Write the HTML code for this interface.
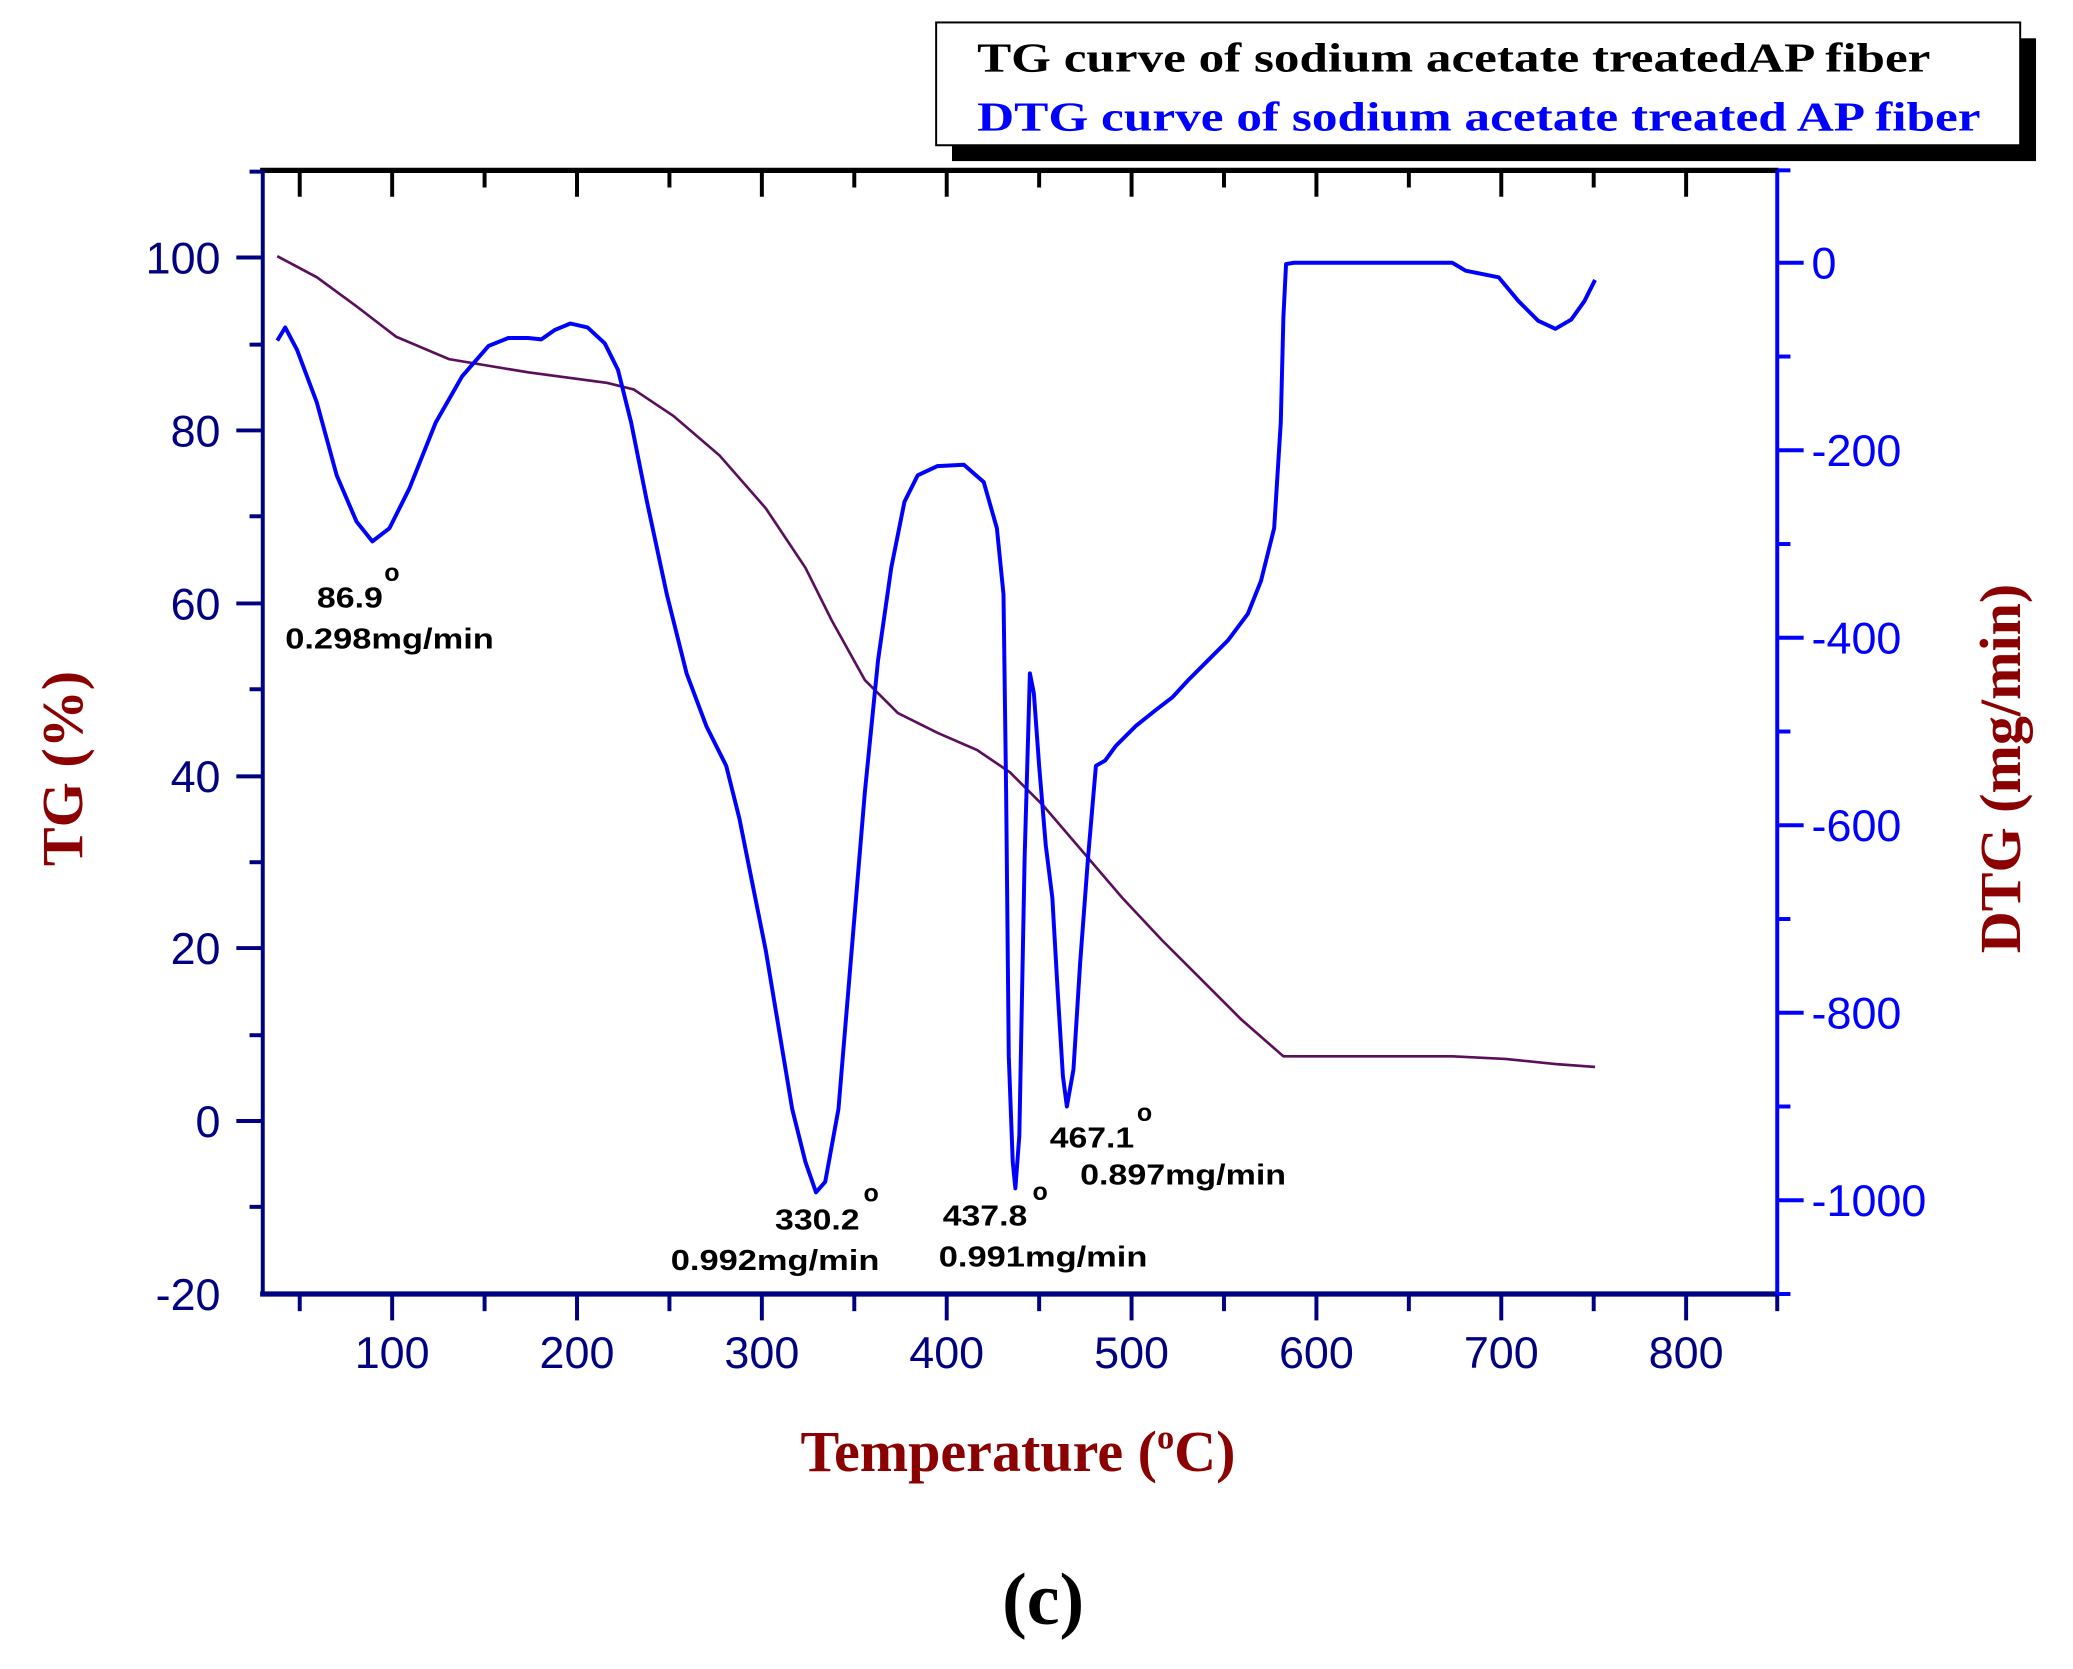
<!DOCTYPE html>
<html><head><meta charset="utf-8"><style>html,body{margin:0;padding:0;background:#fff}svg{display:block}</style></head>
<body>
<svg width="2073" height="1669" viewBox="0 0 1570 1264" preserveAspectRatio="none" xmlns="http://www.w3.org/2000/svg">
<rect width="1570" height="1264" fill="#fff"/>
<rect x="721" y="29" width="821" height="93" fill="#000"/>
<rect x="709" y="17" width="821" height="93" fill="#fff" stroke="#000" stroke-width="1.5"/>
<text x="740" y="54" font-family="Liberation Serif, serif" font-weight="bold" font-size="31" fill="#000" textLength="722" lengthAdjust="spacingAndGlyphs">TG curve of sodium acetate treatedAP fiber</text>
<text x="740" y="99" font-family="Liberation Serif, serif" font-weight="bold" font-size="31" fill="#0000ff" textLength="760" lengthAdjust="spacingAndGlyphs">DTG curve of sodium acetate treated AP fiber</text>
<line x1="197" y1="129" x2="1347" y2="129" stroke="#000" stroke-width="4"/>
<line x1="199" y1="129" x2="199" y2="980" stroke="#000080" stroke-width="3"/>
<line x1="197" y1="980" x2="1347" y2="980" stroke="#000080" stroke-width="4"/>
<line x1="1346" y1="129" x2="1346" y2="980" stroke="#0000ff" stroke-width="3"/>
<g stroke="#000" stroke-width="3">
<line x1="227" y1="129" x2="227" y2="149"/><line x1="297" y1="129" x2="297" y2="149"/><line x1="367" y1="129" x2="367" y2="142"/><line x1="437" y1="129" x2="437" y2="149"/><line x1="507" y1="129" x2="507" y2="142"/><line x1="577" y1="129" x2="577" y2="149"/><line x1="647" y1="129" x2="647" y2="142"/><line x1="717" y1="129" x2="717" y2="149"/><line x1="787" y1="129" x2="787" y2="142"/><line x1="857" y1="129" x2="857" y2="149"/><line x1="927" y1="129" x2="927" y2="142"/><line x1="997" y1="129" x2="997" y2="149"/><line x1="1067" y1="129" x2="1067" y2="142"/><line x1="1137" y1="129" x2="1137" y2="149"/><line x1="1207" y1="129" x2="1207" y2="142"/><line x1="1277" y1="129" x2="1277" y2="149"/>
</g>
<g stroke="#000080" stroke-width="3">
<line x1="227" y1="980" x2="227" y2="993"/><line x1="297" y1="980" x2="297" y2="1000"/><line x1="367" y1="980" x2="367" y2="993"/><line x1="437" y1="980" x2="437" y2="1000"/><line x1="507" y1="980" x2="507" y2="993"/><line x1="577" y1="980" x2="577" y2="1000"/><line x1="647" y1="980" x2="647" y2="993"/><line x1="717" y1="980" x2="717" y2="1000"/><line x1="787" y1="980" x2="787" y2="993"/><line x1="857" y1="980" x2="857" y2="1000"/><line x1="927" y1="980" x2="927" y2="993"/><line x1="997" y1="980" x2="997" y2="1000"/><line x1="1067" y1="980" x2="1067" y2="993"/><line x1="1137" y1="980" x2="1137" y2="1000"/><line x1="1207" y1="980" x2="1207" y2="993"/><line x1="1277" y1="980" x2="1277" y2="1000"/><line x1="1346" y1="980" x2="1346" y2="993"/>
<line x1="179" y1="195" x2="199" y2="195"/><line x1="189" y1="261" x2="199" y2="261"/><line x1="179" y1="326" x2="199" y2="326"/><line x1="189" y1="391" x2="199" y2="391"/><line x1="179" y1="457" x2="199" y2="457"/><line x1="189" y1="522" x2="199" y2="522"/><line x1="179" y1="588" x2="199" y2="588"/><line x1="189" y1="653" x2="199" y2="653"/><line x1="179" y1="718" x2="199" y2="718"/><line x1="189" y1="784" x2="199" y2="784"/><line x1="179" y1="849" x2="199" y2="849"/><line x1="189" y1="914" x2="199" y2="914"/><line x1="189" y1="130" x2="199" y2="130"/>
</g>
<g stroke="#0000ff" stroke-width="3">
<line x1="1346" y1="129" x2="1356" y2="129"/><line x1="1346" y1="199" x2="1366" y2="199"/><line x1="1346" y1="270" x2="1356" y2="270"/><line x1="1346" y1="341" x2="1366" y2="341"/><line x1="1346" y1="412" x2="1356" y2="412"/><line x1="1346" y1="483" x2="1366" y2="483"/><line x1="1346" y1="554" x2="1356" y2="554"/><line x1="1346" y1="625" x2="1366" y2="625"/><line x1="1346" y1="696" x2="1356" y2="696"/><line x1="1346" y1="767" x2="1366" y2="767"/><line x1="1346" y1="838" x2="1356" y2="838"/><line x1="1346" y1="909" x2="1366" y2="909"/><line x1="1346" y1="980" x2="1356" y2="980"/>
</g>
<g font-family="Liberation Sans, sans-serif" font-size="34" fill="#000080" text-anchor="middle">
<text x="297" y="1036">100</text><text x="437" y="1036">200</text><text x="577" y="1036">300</text><text x="717" y="1036">400</text><text x="857" y="1036">500</text><text x="997" y="1036">600</text><text x="1137" y="1036">700</text><text x="1277" y="1036">800</text>
</g>
<g font-family="Liberation Sans, sans-serif" font-size="34" fill="#000080" text-anchor="end">
<text x="167" y="207">100</text><text x="167" y="338">80</text><text x="167" y="469">60</text><text x="167" y="600">40</text><text x="167" y="730">20</text><text x="167" y="861">0</text><text x="167" y="992">-20</text>
</g>
<g font-family="Liberation Sans, sans-serif" font-size="34" fill="#0000ff" text-anchor="start">
<text x="1372" y="211">0</text><text x="1372" y="353">-200</text><text x="1372" y="495">-400</text><text x="1372" y="637">-600</text><text x="1372" y="779">-800</text><text x="1372" y="921">-1000</text>
</g>
<text transform="translate(62,582) rotate(-90)" text-anchor="middle" font-family="Liberation Serif, serif" font-weight="bold" font-size="44" fill="#8b0000">TG (%)</text>
<text transform="translate(1530,582) rotate(-90)" text-anchor="middle" font-family="Liberation Serif, serif" font-weight="bold" font-size="44" fill="#8b0000">DTG (mg/min)</text>
<text x="771" y="1114" text-anchor="middle" font-family="Liberation Serif, serif" font-weight="bold" font-size="44" fill="#8b0000">Temperature (<tspan font-size="26" dy="-17">o</tspan><tspan dy="17">C)</tspan></text>
<text x="790" y="1230" text-anchor="middle" font-family="Liberation Serif, serif" font-weight="bold" font-size="56" fill="#000">(c)</text>
<polyline fill="none" stroke="#5b0f5b" stroke-width="2" points="210,194 240,210 270,232 300,255 340,272 400,282 460,290 480,295 510,315 545,345 580,385 610,430 630,470 655,515 680,540 710,555 740,568 765,585 790,610 820,645 850,680 880,712 910,742 940,772 972,800 1100,800 1140,802 1180,806 1208,808"/>
<polyline fill="none" stroke="#0000ff" stroke-width="3" stroke-linejoin="round" points="210,258 216,248 225,265 240,305 255,360 270,395 282,410 295,400 310,370 330,320 350,285 370,262 385,256 400,256 410,257 420,250 432,245 445,248 458,260 468,280 478,320 490,380 505,450 520,510 535,550 550,580 560,620 570,670 580,720 590,780 600,840 610,880 618,903 625,895 635,840 645,720 655,600 665,500 675,430 685,380 695,360 710,353 730,352 745,365 755,400 760,450 762,600 764,800 767,880 769,900 772,860 776,650 780,510 783,525 787,580 792,640 797,680 801,750 805,815 808,838 813,810 818,730 824,650 830,580 837,576 845,565 860,550 875,538 888,528 900,515 915,500 930,485 945,465 955,440 965,400 970,320 972,240 974,200 980,199 1100,199 1110,205 1135,210 1150,228 1165,243 1178,249 1190,242 1200,228 1208,212"/>
<g font-family="Liberation Sans, sans-serif" font-weight="bold" font-size="22" fill="#000">
<text x="240" y="460" textLength="50" lengthAdjust="spacingAndGlyphs">86.9</text><text x="291" y="440" font-size="19">o</text><text x="216" y="491" textLength="158" lengthAdjust="spacingAndGlyphs">0.298mg/min</text>
<text x="587" y="931" textLength="64" lengthAdjust="spacingAndGlyphs">330.2</text><text x="654" y="910" font-size="19">o</text><text x="508" y="962" textLength="158" lengthAdjust="spacingAndGlyphs">0.992mg/min</text>
<text x="714" y="928" textLength="64" lengthAdjust="spacingAndGlyphs">437.8</text><text x="782" y="909" font-size="19">o</text><text x="711" y="959" textLength="158" lengthAdjust="spacingAndGlyphs">0.991mg/min</text>
<text x="795" y="869" textLength="64" lengthAdjust="spacingAndGlyphs">467.1</text><text x="861" y="849" font-size="19">o</text><text x="818" y="897" textLength="156" lengthAdjust="spacingAndGlyphs">0.897mg/min</text>
</g>
</svg>
</body></html>
